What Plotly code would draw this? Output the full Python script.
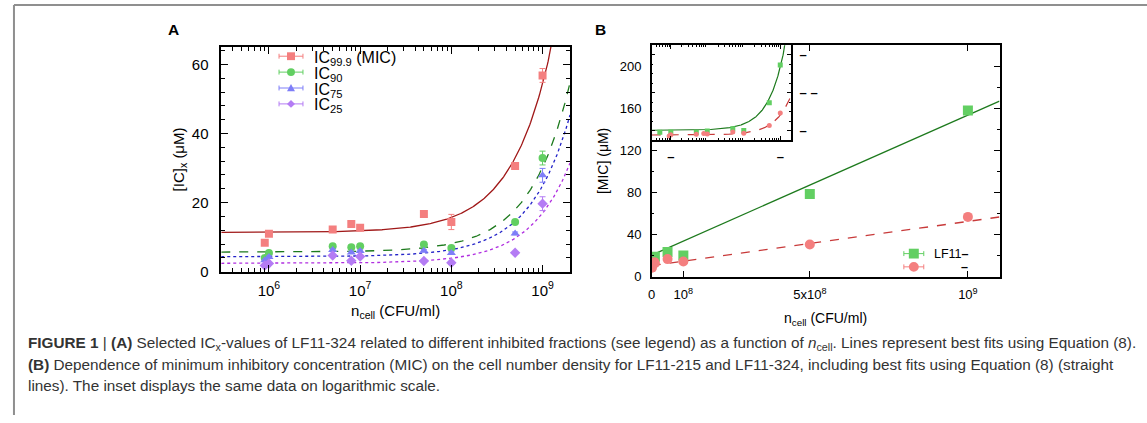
import numpy as np
import plotly.graph_objects as go

W, H = 1147, 423

# ---------------- data ----------------
# Panel A: inhibitory concentrations of LF11-324 vs cell density
n_cell_a = [9e5, 1e6, 5e6, 8e6, 1e7, 5e7, 1e8, 5e8, 1e9]
ic_999 = [8.4, 11.0, 12.2, 13.8, 12.7, 16.7, 14.4, 30.6, 56.8]
ic_999_err = [0.3, 0.3, 0.4, 1.0, 0.4, 0.4, 2.2, 0.5, 2.0]
ic_90 = [4.0, 5.4, 7.4, 7.1, 7.4, 7.9, 6.9, 14.4, 32.9]
ic_90_err = [0.3, 0.3, 0.3, 0.3, 0.3, 0.3, 0.4, 0.4, 2.0]
ic_75 = [3.3, 4.3, 6.3, 5.6, 6.0, 6.1, 5.4, 11.1, 27.9]
ic_75_err = [0.3, 0.3, 0.3, 0.3, 0.3, 0.3, 0.4, 0.4, 2.0]
ic_25 = [1.8, 2.4, 4.7, 3.2, 4.4, 3.1, 2.6, 5.5, 19.7]
ic_25_err = [0.3, 0.3, 0.3, 0.3, 0.3, 0.3, 0.4, 0.3, 2.0]

# fit parameters (intercept, slope) for IC = a + b * n_cell
fit_999 = (11.4, 4.3e-8)
fit_90 = (5.7, 2.45e-8)
fit_75 = (4.35, 2.05e-8)
fit_25 = (2.45, 1.45e-8)

# Panel B: MIC of LF11-215 vs cell density (LF11-324 reuses ic_999)
n_cell_b = [5e5, 1e6, 5e6, 1e7, 5e7, 1e8, 5e8, 1e9]
mic_215 = [16.5, 17.0, 16.5, 19.0, 23.5, 20.0, 78.5, 158.0]
mic_215_err = [0.5, 0.5, 0.5, 0.5, 0.8, 0.8, 1.0, 1.5]
fit_215 = (20.5, 1.33e-7)
fit_324 = (10.5, 4.2e-8)

a_ticks = [1e6, 1e7, 1e8, 1e9]
a_ticktext = ["10<sup>6</sup>", "10<sup>7</sup>", "10<sup>8</sup>", "10<sup>9</sup>"]
b_ticks = [0, 1e8, 5e8, 1e9]
b_ticktext = ["0", "10<sup>8</sup>", "5x10<sup>8</sup>", "10<sup>9</sup>"]

legend_a_names = ["IC<sub>99.9</sub> (MIC)", "IC<sub>90</sub>", "IC<sub>75</sub>", "IC<sub>25</sub>"]
legend_b_names = ["LF11<b>\u2013</b>", "<b>\u2013</b>"]

# ---------------- styling ----------------
FONT = "Liberation Sans, Arial, sans-serif"
C_PINK, C_GREEN, C_BLUE, C_PURPLE = "#f47f7f", "#62cf62", "#7e7ef8", "#b47cf4"
L_RED, L_GREEN, L_BLUE, L_PURPLE = "#a01818", "#1d7a1d", "#2222c8", "#b02ee0"
L_PINKFIT = "#c83a3a"


def fx(p):
    return p / W


def fy(p):
    return 1 - p / H


log_lo, log_hi = np.log10(3e5), np.log10(2e9)
n_fit = np.logspace(log_lo, log_hi, 400)

fig = go.Figure()


def add_series(x, y, err, color, symbol, size, xa, ya):
    fig.add_trace(go.Scatter(
        x=x, y=y, mode="markers", xaxis=xa, yaxis=ya, showlegend=False,
        marker=dict(color=color, symbol=symbol, size=size),
        error_y=dict(type="data", array=err, color=color, thickness=1, width=3),
    ))


def add_fit(params, color, dash, width, xa, ya, n):
    a, b = params
    fig.add_trace(go.Scatter(
        x=n, y=a + b * np.asarray(n), mode="lines", xaxis=xa, yaxis=ya,
        showlegend=False, line=dict(color=color, dash=dash, width=width),
    ))


def legend_key(cx, cy, color, symbol, size, half, text, tx, font_size, yshift=0):
    """Error-bar style key: horizontal bar with caps, a marker and a label (pixel units)."""
    line = dict(color=color, width=1)
    fig.add_shape(type="line", xref="paper", yref="paper",
                  x0=fx(cx - half), x1=fx(cx + half), y0=fy(cy), y1=fy(cy), line=line)
    for ex in (cx - half, cx + half):
        fig.add_shape(type="line", xref="paper", yref="paper",
                      x0=fx(ex), x1=fx(ex), y0=fy(cy - 2.5), y1=fy(cy + 2.5), line=line)
    r = size / 2
    fill = dict(fillcolor=color, line=dict(width=0))
    if symbol == "square":
        fig.add_shape(type="rect", xref="paper", yref="paper",
                      x0=fx(cx - r), x1=fx(cx + r), y0=fy(cy + r), y1=fy(cy - r), **fill)
    elif symbol == "circle":
        fig.add_shape(type="circle", xref="paper", yref="paper",
                      x0=fx(cx - r), x1=fx(cx + r), y0=fy(cy + r), y1=fy(cy - r), **fill)
    elif symbol == "triangle":
        path = (f"M {fx(cx - r)} {fy(cy + r * 0.8)} L {fx(cx + r)} {fy(cy + r * 0.8)} "
                f"L {fx(cx)} {fy(cy - r)} Z")
        fig.add_shape(type="path", xref="paper", yref="paper", path=path, **fill)
    elif symbol == "diamond":
        path = (f"M {fx(cx - r)} {fy(cy)} L {fx(cx)} {fy(cy - r)} "
                f"L {fx(cx + r)} {fy(cy)} L {fx(cx)} {fy(cy + r)} Z")
        fig.add_shape(type="path", xref="paper", yref="paper", path=path, **fill)
    fig.add_annotation(text=text, x=fx(tx), y=fy(cy), xref="paper", yref="paper",
                       xanchor="left", yanchor="middle", showarrow=False, yshift=yshift,
                       font=dict(size=font_size, color="black"))


# Panel A fits then data
add_fit(fit_999, L_RED, "solid", 1.3, "x", "y", n_fit)
add_fit(fit_90, L_GREEN, "dash", 1.3, "x", "y", n_fit)
add_fit(fit_75, L_BLUE, "dot", 1.3, "x", "y", n_fit)
add_fit(fit_25, L_PURPLE, "dot", 1.3, "x", "y", n_fit)
add_series(n_cell_a, ic_999, ic_999_err, C_PINK, "square", 8, "x", "y")
add_series(n_cell_a, ic_90, ic_90_err, C_GREEN, "circle", 8, "x", "y")
add_series(n_cell_a, ic_75, ic_75_err, C_BLUE, "triangle-up", 8, "x", "y")
add_series(n_cell_a, ic_25, ic_25_err, C_PURPLE, "diamond", 8, "x", "y")

# Panel B (linear)
n_lin = np.array([0, 1.1e9])
add_fit(fit_215, L_GREEN, "solid", 1.3, "x2", "y2", n_lin)
add_fit(fit_324, L_PINKFIT, "dash", 1.3, "x2", "y2", n_lin)
add_series(n_cell_b, mic_215, mic_215_err, C_GREEN, "square", 10, "x2", "y2")
add_series(n_cell_a, ic_999, ic_999_err, C_PINK, "circle", 10, "x2", "y2")

# Inset (log x)
add_fit(fit_215, L_GREEN, "solid", 1.2, "x3", "y3", n_fit)
add_fit(fit_324, L_PINKFIT, "dash", 1.2, "x3", "y3", n_fit)
add_series(n_cell_b, mic_215, None, C_GREEN, "square", 5, "x3", "y3")
add_series(n_cell_a, ic_999, None, C_PINK, "circle", 5, "x3", "y3")

# legends
for i, (name, col, sym) in enumerate(zip(
        legend_a_names, [C_PINK, C_GREEN, C_BLUE, C_PURPLE],
        ["square", "circle", "triangle", "diamond"])):
    legend_key(288, 57.3 + 16.2 * i, col, sym, 8, 12, name, 309, 16, yshift=-2)
for i, (name, col, sym) in enumerate(zip(legend_b_names, [C_GREEN, C_PINK],
                                         ["square", "circle"])):
    legend_key(913, 258.5 + 13.5 * i, col, sym, 10, 10, name,
               931 if i == 0 else 958, 12.5)

minor_log = [k * 10 ** d for d in range(5, 10) for k in range(2, 10)]

axis_common = dict(showline=True, linecolor="black", linewidth=1.5, mirror="ticks",
                   ticks="inside", tickcolor="black", showgrid=False, zeroline=False)

fig.update_layout(
    width=W, height=H, margin=dict(l=0, r=0, t=0, b=0),
    paper_bgcolor="white", plot_bgcolor="white", showlegend=False,
    font=dict(family=FONT, color="black"),
    xaxis=dict(**axis_common, type="log", range=[log_lo, log_hi],
               domain=[fx(218), fx(568)], anchor="y",
               tickvals=a_ticks, ticktext=a_ticktext, ticklen=7,
               tickfont=dict(size=15), ticklabelstandoff=4,
               minor=dict(tickmode="array", tickvals=minor_log, ticks="inside",
                          ticklen=4, tickcolor="black"),
               title=dict(text="n<sub>cell</sub> (CFU/ml)", font=dict(size=15), standoff=8)),
    yaxis=dict(**axis_common, range=[0, 65], domain=[fy(277), fy(48)], anchor="x",
               tickvals=[0, 20, 40, 60], ticklen=7, tickfont=dict(size=15),
               ticklabelstandoff=8,
               minor=dict(dtick=4, ticks="inside", ticklen=4, tickcolor="black"),
               title=dict(text="[IC]<sub>x</sub> (\u03bcM)", font=dict(size=15), standoff=4)),
    xaxis2=dict(**axis_common, range=[0, 1.1e9], domain=[fx(650), fx(999)], anchor="y2",
                tickvals=b_ticks, ticktext=b_ticktext, ticklen=6,
                tickfont=dict(size=13), ticklabelstandoff=5,
                title=dict(text="n<sub>cell</sub> (CFU/ml)", font=dict(size=14), standoff=12)),
    yaxis2=dict(**axis_common, range=[0, 220], domain=[fy(282), fy(46)], anchor="x2",
                tickvals=[0, 40, 80, 120, 160, 200], ticklen=6, tickfont=dict(size=13),
                ticklabelstandoff=6,
                minor=dict(dtick=20, ticks="inside", ticklen=3, tickcolor="black"),
                title=dict(text="[MIC] (\u03bcM)", font=dict(size=14), standoff=8)),
    xaxis3=dict(**axis_common, type="log", range=[log_lo, log_hi],
                domain=[fx(650), fx(790)], anchor="y3",
                tickvals=[1e6, 1e9], ticktext=["<b>\u2013</b>", "<b>\u2013</b>"],
                ticklen=4, tickfont=dict(size=13), ticklabelstandoff=4,
                minor=dict(tickmode="array", tickvals=minor_log, ticks="inside",
                           ticklen=2, tickcolor="black")),
    yaxis3=dict(**axis_common, range=[0, 200], domain=[fy(142.7), fy(46)], anchor="x3",
                side="right", tickvals=[20, 100, 180],
                ticktext=["<b>\u2013</b>", "<b>\u2013 \u2013</b>", "<b>\u2013</b>"],
                ticklen=4, tickfont=dict(size=13), ticklabelstandoff=4,
                minor=dict(dtick=20, ticks="inside", ticklen=2, tickcolor="black")),
)

# panel letters
fig.add_annotation(text="<b>A</b>", x=fx(170), y=fy(30.5), xref="paper", yref="paper",
                   xanchor="center", yanchor="middle", showarrow=False, font=dict(size=15.5))
fig.add_annotation(text="<b>B</b>", x=fx(599), y=fy(30), xref="paper", yref="paper",
                   xanchor="center", yanchor="middle", showarrow=False, font=dict(size=15.5))

# caption
caption = [
    "<b>FIGURE 1</b> | <b>(A)</b> Selected IC<sub>x</sub>-values of LF11-324 related to different "
    "inhibited fractions (see legend) as a function of <i>n</i><sub>cell</sub>. Lines represent "
    "best fits using Equation (8).",
    "<b>(B)</b> Dependence of minimum inhibitory concentration (MIC) on the cell number density "
    "for LF11-215 and LF11-324, including best fits using Equation (8) (straight",
    "lines). The inset displays the same data on logarithmic scale.",
]
for i, line in enumerate(caption):
    fig.add_annotation(text=line, x=fx(22), y=fy(350 + 21.5 * i), xref="paper", yref="paper",
                       xanchor="left", yanchor="middle", showarrow=False,
                       font=dict(size=15.3, color="#333333"))

# outer frame (top and left edges)
fig.add_shape(type="line", xref="paper", yref="paper", x0=fx(10), x1=1, y0=fy(5), y1=fy(5),
              line=dict(color="#8f8f8f", width=2))
fig.add_shape(type="line", xref="paper", yref="paper", x0=fx(10), x1=fx(10), y0=fy(5), y1=0,
              line=dict(color="#8f8f8f", width=2))

fig.write_html("out.html")
